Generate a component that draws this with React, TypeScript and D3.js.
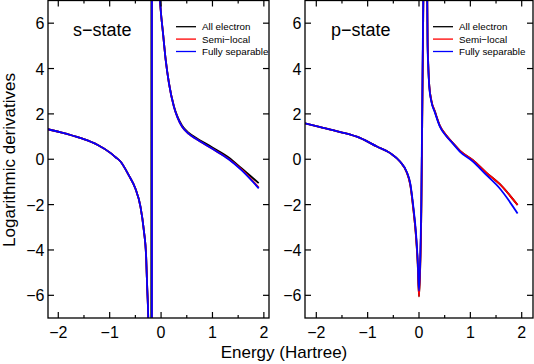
import React from "react";
import * as d3 from "d3";

const W = 534;
const H = 364;
const FONT = "'Liberation Sans', Arial, Helvetica, sans-serif";

// legend / series
const SERIES_NAMES = ["All electron", "Semi−local", "Fully separable"];
const SERIES_COLORS = ["#000000", "#ff0000", "#0000ff"];

// axis ticks
const X_TICKS = [-2, -1, 0, 1, 2];
const X_MINOR = [-1.5, -0.5, 0.5, 1.5];
const Y_TICKS = [-6, -4, -2, 0, 2, 4, 6];

// s-state (values beyond ±7 run off the plot, across the poles)
const S_ENERGY = [
  -2.21, -1.95, -1.56, -1.24, -0.98, -0.885, -0.79, -0.63, -0.5, -0.4, -0.335,
  -0.29, -0.27, -0.25, -0.2, -0.18, -0.175, -0.12, -0.06, -0.02, -0.007, 0.038,
  0.09, 0.154, 0.25, 0.315, 0.41, 0.54, 0.67, 0.99, 1.315, 1.57, 1.9,
];
const S_ALL_ELECTRON = [
  1.33, 1.19, 0.93, 0.64, 0.27, 0.09, -0.1, -0.7, -1.29, -2.1, -3.14, -4.33,
  -5.66, -6.99, -60, 60, 50, 20, 10, 7.0, 6.58, 5.56, 4.39, 3.36, 2.34, 1.9,
  1.48, 1.16, 0.96, 0.53, 0.08, -0.41, -1.05,
];
const S_SEMILOCAL = [
  1.33, 1.19, 0.93, 0.64, 0.27, 0.09, -0.1, -0.7, -1.29, -2.1, -3.14, -4.33,
  -5.66, -6.99, -20, -60, 60, 20, 10, 7.0, 6.58, 5.55, 4.37, 3.34, 2.31, 1.87,
  1.43, 1.12, 0.91, 0.47, 0.01, -0.46, -1.25,
];
const S_SEPARABLE = [
  1.33, 1.19, 0.93, 0.64, 0.27, 0.09, -0.1, -0.7, -1.29, -2.1, -3.14, -4.33,
  -5.66, -6.99, -20, -60, 60, 20, 10, 7.0, 6.58, 5.55, 4.37, 3.34, 2.31, 1.87,
  1.43, 1.12, 0.91, 0.47, 0.0, -0.49, -1.28,
];

// p-state
const P_ENERGY = [
  -2.22, -1.92, -1.53, -1.14, -0.82, -0.56, -0.37, -0.24, -0.17, -0.11, -0.058,
  -0.025, 0.0, 0.02, 0.045, 0.058, 0.07, 0.083, 0.12, 0.16, 0.167, 0.18, 0.2,
  0.24, 0.31, 0.407, 0.537, 0.665, 0.795, 1.05, 1.31, 1.57, 1.92,
];
const P_ALL_ELECTRON = [
  1.58, 1.42, 1.2, 0.93, 0.56, 0.27, -0.1, -0.57, -1.12, -2.2, -3.4, -4.6,
  -6.05, -5.0, -2.3, 0.6, 3.5, 6.6, 12, 7.3, 5.3, 4.2, 3.25, 2.6, 2.1, 1.47,
  1.03, 0.7, 0.38, -0.04, -0.59, -1.09, -2.02,
];
const P_SEMILOCAL = [
  1.58, 1.42, 1.2, 0.93, 0.56, 0.27, -0.1, -0.57, -1.12, -2.2, -3.4, -4.6,
  -6.05, -5.0, -2.3, 0.6, 3.5, 6.6, 12, 7.3, 5.3, 4.2, 3.25, 2.6, 2.1, 1.47,
  1.03, 0.7, 0.38, -0.04, -0.59, -1.09, -2.02,
];
const P_SEPARABLE = [
  1.58, 1.42, 1.2, 0.93, 0.56, 0.27, -0.1, -0.55, -1.07, -2.1, -3.27, -4.46,
  -5.8, -4.75, -1.8, 1.16, 4.1, 7.05, 12, 7.0, 5.0, 4.1, 3.2, 2.55, 2.06, 1.44,
  1.0, 0.68, 0.34, -0.1, -0.69, -1.28, -2.39,
];

const Y_TOP = 0.5;
const Y_BOTTOM = 318;

const fmt = (d: number) => (d < 0 ? "\u2212" + Math.abs(d) : String(d));

type PanelProps = {
  id: string;
  left: number;
  right: number;
  xDomain: [number, number];
  title: string;
  titleX: number;
  legendX: number;
  energy: number[];
  series: number[][];
};

function Panel({ id, left, right, xDomain, title, titleX, legendX, energy, series }: PanelProps) {
  const x = d3.scaleLinear().domain(xDomain).range([left, right]);
  const y = d3.scaleLinear().domain([-7, 7]).range([Y_BOTTOM, Y_TOP]);
  const line = d3
    .line<[number, number]>()
    .x((d) => x(d[0]))
    .y((d) => y(d[1]))
    .curve(d3.curveMonotoneX);

  return (
    <g>
      <defs>
        <clipPath id={id}>
          <rect x={left} y={Y_TOP} width={right - left} height={Y_BOTTOM - Y_TOP} />
        </clipPath>
      </defs>
      <g clipPath={`url(#${id})`}>
        {series.map((vals, i) => (
          <path
            key={i}
            d={line(energy.map((e, k) => [e, vals[k]] as [number, number])) || ""}
            fill="none"
            stroke={SERIES_COLORS[i]}
            strokeWidth={1.8}
          />
        ))}
      </g>

      {/* frame */}
      <rect
        x={left}
        y={Y_TOP}
        width={right - left}
        height={Y_BOTTOM - Y_TOP}
        fill="none"
        stroke="#000"
        strokeWidth={1.3}
      />

      {/* x ticks, bottom and top, inward */}
      {X_TICKS.map((t) => (
        <g key={"xm" + t}>
          <line x1={x(t)} x2={x(t)} y1={Y_BOTTOM} y2={Y_BOTTOM - 6} stroke="#000" strokeWidth={1.2} />
          <line x1={x(t)} x2={x(t)} y1={Y_TOP} y2={Y_TOP + 6} stroke="#000" strokeWidth={1.2} />
          <text x={x(t)} y={338} textAnchor="middle" fontSize={16} fontFamily={FONT}>
            {fmt(t)}
          </text>
        </g>
      ))}
      {X_MINOR.map((t) => (
        <g key={"xn" + t}>
          <line x1={x(t)} x2={x(t)} y1={Y_BOTTOM} y2={Y_BOTTOM - 3} stroke="#000" strokeWidth={1.2} />
          <line x1={x(t)} x2={x(t)} y1={Y_TOP} y2={Y_TOP + 3} stroke="#000" strokeWidth={1.2} />
        </g>
      ))}

      {/* y ticks, left and right, inward */}
      {Y_TICKS.map((t) => (
        <g key={"y" + t}>
          <line x1={left} x2={left + 6} y1={y(t)} y2={y(t)} stroke="#000" strokeWidth={1.2} />
          <line x1={right} x2={right - 6} y1={y(t)} y2={y(t)} stroke="#000" strokeWidth={1.2} />
          <text x={left - 3.5} y={y(t) + 6} textAnchor="end" fontSize={16} fontFamily={FONT}>
            {fmt(t)}
          </text>
        </g>
      ))}

      <text x={titleX} y={36} fontSize={18} fontFamily={FONT}>
        {title}
      </text>

      {/* legend */}
      {SERIES_NAMES.map((name, i) => {
        const ly = 26.7 + i * 12.4;
        return (
          <g key={name}>
            <line x1={legendX} x2={legendX + 20} y1={ly} y2={ly} stroke={SERIES_COLORS[i]} strokeWidth={1.3} />
            <text x={legendX + 26} y={ly + 3.5} fontSize={9.8} fontFamily={FONT}>
              {name}
            </text>
          </g>
        );
      })}
    </g>
  );
}

export default function App() {
  return (
    <svg
      width={W}
      height={H}
      viewBox={`0 0 ${W} ${H}`}
      style={{ position: "absolute", left: 0, top: 0, background: "#fff" }}
    >
      <rect x={0} y={0} width={W} height={H} fill="#fff" />
      <Panel
        id="clip-s"
        left={48}
        right={269}
        xDomain={[-2.2, 2.1]}
        title={"s\u2212state"}
        titleX={73}
        legendX={176}
        energy={S_ENERGY}
        series={[S_ALL_ELECTRON, S_SEMILOCAL, S_SEPARABLE]}
      />
      <Panel
        id="clip-p"
        left={305}
        right={533}
        xDomain={[-2.22, 2.22]}
        title={"p\u2212state"}
        titleX={331}
        legendX={433}
        energy={P_ENERGY}
        series={[P_ALL_ELECTRON, P_SEMILOCAL, P_SEPARABLE]}
      />
      <text x={284} y={358} textAnchor="middle" fontSize={17} fontFamily={FONT}>
        Energy (Hartree)
      </text>
      <text
        transform="translate(15,160) rotate(-90)"
        textAnchor="middle"
        fontSize={17}
        fontFamily={FONT}
      >
        Logarithmic derivatives
      </text>
    </svg>
  );
}
